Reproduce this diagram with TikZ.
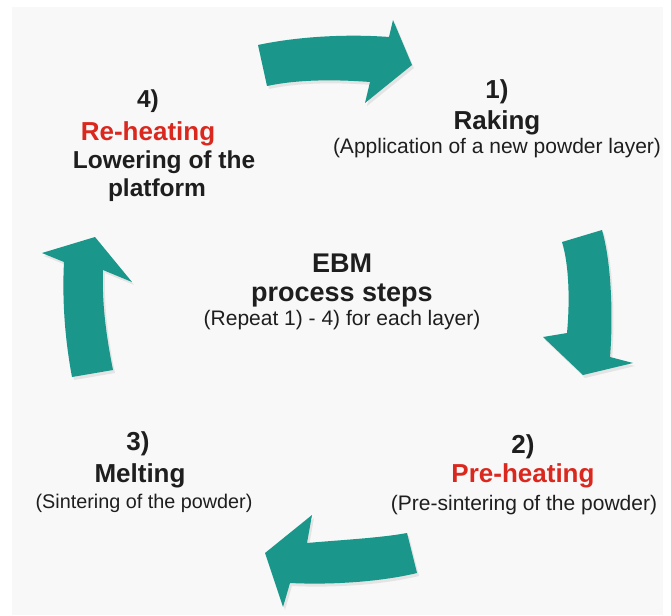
\documentclass[tikz,border=0pt]{standalone}
\usepackage{fontspec}
\setmainfont{Liberation Sans}
\definecolor{teal1}{RGB}{26,150,138}
\definecolor{redtxt}{RGB}{218,40,30}
\definecolor{darktxt}{RGB}{30,30,30}
\definecolor{bggray}{RGB}{248,248,248}
\tikzset{
  bigtxt/.style={anchor=base,inner sep=0pt,text=darktxt,font=\fontsize{26}{30}\selectfont\bfseries},
  midtxt/.style={bigtxt,font=\fontsize{24.5}{29}\selectfont\bfseries},
  redbig/.style={bigtxt,text=redtxt},
  ctrtxt/.style={bigtxt,font=\fontsize{27}{31}\selectfont\bfseries},
  subtxt/.style={anchor=base,inner sep=0pt,text=darktxt,font=\fontsize{21}{24}\selectfont},
  smallsub/.style={subtxt,font=\fontsize{19.8}{24}\selectfont},
  arrowshape/.style={fill=teal1,draw=none},
  arrowshadow/.style={fill=black,opacity=0.08,draw=none}
}
\begin{document}
\begin{tikzpicture}[x=1pt,y=-1pt]
\useasboundingbox (0,0) rectangle (671,615);
\fill[white] (0,0) rectangle (671,615);
\fill[bggray] (12,7) rectangle (663,615);

% top arrow (to step 1)
\fill[arrowshadow] (260,48) .. controls (302,39) and (352,37) .. (391,40) -- (395,23) -- (414,68) -- (367,106) -- (372,85) .. controls (332,82) and (297,83) .. (269,89) -- cycle;
\fill[arrowshape] (258,45) .. controls (300,36) and (350,34) .. (389,37) -- (393,20) -- (412,65) -- (365,103) -- (370,82) .. controls (330,79) and (295,80) .. (267,86) -- cycle;

% right arrow (to step 2)
\fill[arrowshadow] (564,245) -- (604,233) .. controls (614,268) and (615,323) .. (612,360) -- (635,366) -- (585,378) -- (545,340) -- (569,336) .. controls (572,303) and (571,268) .. (564,245) -- cycle;
\fill[arrowshape] (562,242) -- (602,230) .. controls (612,265) and (613,320) .. (610,357) -- (633,363) -- (583,375) -- (543,337) -- (567,333) .. controls (570,300) and (569,265) .. (562,242) -- cycle;

% bottom arrow (to step 3)
\fill[arrowshadow] (409,536) -- (419,576) .. controls (382,585) and (332,588) .. (292,586) -- (285,610) -- (267,556) -- (314,518) -- (309,546) .. controls (342,543) and (382,541) .. (409,536) -- cycle;
\fill[arrowshape] (407,533) -- (417,573) .. controls (380,582) and (330,585) .. (290,583) -- (283,607) -- (265,553) -- (312,515) -- (307,543) .. controls (340,540) and (380,538) .. (407,533) -- cycle;

% left arrow (to step 4)
\fill[arrowshadow] (74,380) -- (115,373) .. controls (107,333) and (104,303) .. (105,273) -- (134,285) -- (97,240) -- (44,256) -- (66,265) .. controls (64,303) and (67,343) .. (74,380) -- cycle;
\fill[arrowshape] (72,377) -- (113,370) .. controls (105,330) and (102,300) .. (103,270) -- (132,282) -- (95,237) -- (42,253) -- (64,262) .. controls (62,300) and (65,340) .. (72,377) -- cycle;

% step 1
\node[bigtxt] (s1num) at (497,99) {1)};
\node[bigtxt] (s1title) at (497,129) {Raking};
\node[subtxt] (s1sub) at (497,153) {(Application of a new powder layer)};

% centre
\node[ctrtxt] (cTitle) at (342,272) {EBM};
\node[ctrtxt] (cTitle2) at (342,301) {process steps};
\node[subtxt] (cSub) at (342,325) {(Repeat 1) - 4) for each layer)};

% step 2
\node[bigtxt] (s2num) at (523,453) {2)};
\node[redbig] (s2title) at (523,482) {Pre-heating};
\node[subtxt] (s2sub) at (524,510) {(Pre-sintering of the powder)};

% step 3
\node[bigtxt] (s3num) at (138,450) {3)};
\node[bigtxt] (s3title) at (140,482) {Melting};
\node[smallsub] (s3sub) at (144,508) {(Sintering of the powder)};

% step 4
\node[midtxt] (s4num) at (148,107) {4)};
\node[redbig] (s4title) at (148,140) {Re-heating};
\node[midtxt] (s4l2) at (164,168) {Lowering of the};
\node[midtxt] (s4l3) at (157,196) {platform};
\end{tikzpicture}
\end{document}
